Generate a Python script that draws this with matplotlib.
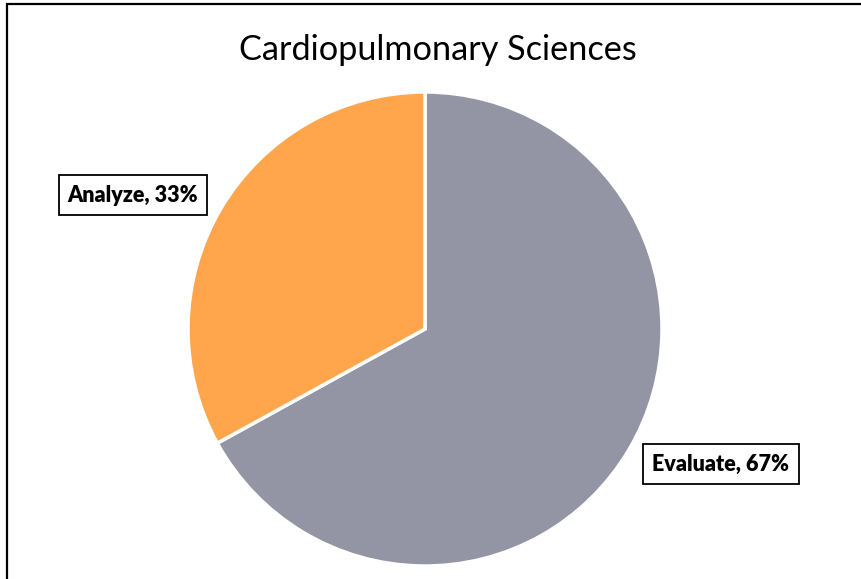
import matplotlib
matplotlib.use('Agg')
import matplotlib.pyplot as plt
from matplotlib.patches import Rectangle

# data
labels = ['Evaluate', 'Analyze']
shares = [67, 33]
colors = ['#9395A5', '#FFA64D']
title = 'Cardiopulmonary Sciences'

W, H = 861, 579
fig = plt.figure(figsize=(W / 100, H / 100), dpi=100)
ax = fig.add_axes([0, 0, 1, 1])

# chart frame (cut at the right / bottom edge like the source)
fig.patches.append(Rectangle((6.5 / W, -0.1), 1.2, (H - 4.5) / H + 0.1,
                             transform=fig.transFigure, fill=False,
                             edgecolor='black', linewidth=1.6))

wedges, _ = ax.pie(shares, colors=colors, startangle=90, counterclock=False,
                   center=(425, H - 329), radius=237, frame=True,
                   wedgeprops=dict(edgecolor='white', linewidth=2.5))
ax.set_xlim(0, W)
ax.set_ylim(0, H)
ax.set_aspect('equal')
ax.axis('off')

ax.text(438, H - 50, title, ha='center', va='center', fontsize=24.7,
        family='Lato', color='#000000')

# data labels
label_pos = {'Evaluate': (721, H - 464), 'Analyze': (133, H - 195)}
for lab, v in zip(labels, shares):
    x, y = label_pos[lab]
    ax.text(x, y, '%s, %d%%' % (lab, v), ha='center', va='center',
            fontsize=15.5, fontweight='heavy', family='Lato',
            bbox=dict(boxstyle='square,pad=0.42', facecolor='white',
                      edgecolor='black', linewidth=1.3))

fig.savefig('out.png', dpi=100)
